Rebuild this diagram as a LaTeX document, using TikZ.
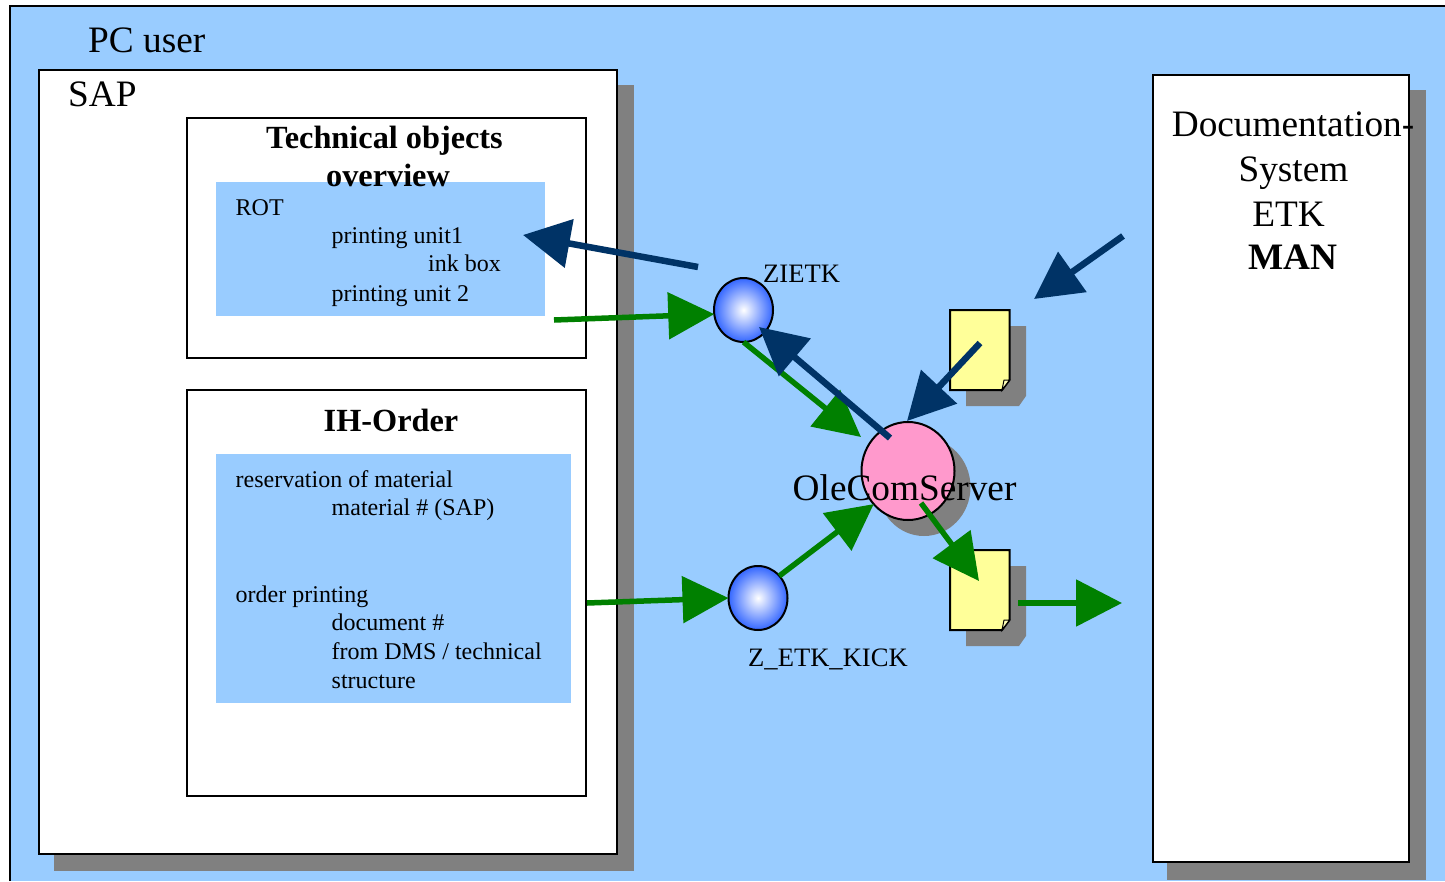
\documentclass[tikz,border=0pt]{standalone}
\usepackage{fontspec}
\setmainfont{Liberation Serif}
\usetikzlibrary{arrows.meta,shapes.geometric}
\definecolor{skyblue}{HTML}{99CCFF}
\definecolor{shadowgrey}{HTML}{808080}
\definecolor{arrowgreen}{HTML}{008000}
\definecolor{arrownavy}{HTML}{003366}
\definecolor{rosepink}{HTML}{FF99CC}
\definecolor{paleyellow}{HTML}{FFFF99}
\definecolor{ballblue}{HTML}{3366FF}
\tikzset{
  x=1pt,y=-1pt,
  panel/.style={rectangle,anchor=north west,inner sep=0pt,outer sep=0pt,draw=black,line width=2pt,fill=white},
  shadowbox/.style={rectangle,anchor=north west,inner sep=0pt,outer sep=0pt,fill=shadowgrey},
  inset/.style={rectangle,anchor=north west,inner sep=0pt,outer sep=0pt,fill=skyblue},
  big/.style={anchor=base west,inner sep=0pt,font=\fontsize{37.3}{37.3}\selectfont},
  bigc/.style={anchor=base,inner sep=0pt,font=\fontsize{37.3}{37.3}\selectfont},
  boldc/.style={anchor=base,inner sep=0pt,font=\fontsize{32.3}{32.3}\selectfont\bfseries},
  small/.style={anchor=base west,inner sep=0pt,font=\fontsize{24}{24}\selectfont},
  tag/.style={anchor=base west,inner sep=0pt,font=\fontsize{26.6}{26.6}\selectfont},
  ball/.style={ellipse,inner sep=0pt,outer sep=0pt,minimum width=59pt,minimum height=64pt,draw=black,line width=2pt,inner color=white,outer color=ballblue},
  server/.style={ellipse,inner sep=0pt,outer sep=0pt,minimum width=93pt,minimum height=98pt,draw=black,line width=2pt,fill=rosepink},
  servershadow/.style={ellipse,inner sep=0pt,outer sep=0pt,minimum width=93pt,minimum height=98pt,fill=shadowgrey},
  greenarrow/.style={draw=arrowgreen,line width=5.5pt,-{Triangle[length=46pt,width=46pt,fill=arrowgreen]}},
  navyarrow/.style={draw=arrownavy,line width=6.5pt,-{Triangle[length=47pt,width=48pt,fill=arrownavy]}},
  notepaper/.style={fill=paleyellow,draw=black,line width=2pt,line join=miter},
}
\newcommand{\notesheet}[2]{%
  \fill[shadowgrey] (#1+16,#2+16) -- (#1+76,#2+16) -- (#1+76,#2+86) -- (#1+69,#2+96) -- (#1+16,#2+96) -- cycle;
  \draw[notepaper] (#1,#2) -- (#1+59.5,#2) -- (#1+59.5,#2+70) -- (#1+52,#2+80) -- (#1,#2+80) -- cycle;
  \draw[fill=paleyellow!70!white,draw=black,line width=1pt] (#1+52,#2+80) -- (#1+54,#2+70) -- (#1+59.5,#2+70) -- cycle;
}
\begin{document}
\begin{tikzpicture}
\useasboundingbox (0,0) rectangle (1445,881);
\fill[white] (0,0) rectangle (1445,881);
\fill[skyblue] (10,6) rectangle (1445,881);
\draw[black,line width=2pt] (10,881) -- (10,6) -- (1445,6);

\node[big] (pcuser) at (88,52) {PC user};

% SAP window
\node[shadowbox,minimum width=580pt,minimum height=786pt] (sapshadow) at (54,85) {};
\node[panel,minimum width=578pt,minimum height=784pt] (sap) at (39,70) {};
\node[big] (saplabel) at (68,106) {SAP};

% Technical objects
\node[panel,minimum width=399pt,minimum height=240pt] (tech) at (187,118) {};
\node[inset,minimum width=329pt,minimum height=134pt] (techinset) at (216,182) {};
\node[boldc] (techa) at (384.5,148) {Technical objects};
\node[boldc] (techb) at (388,186) {overview};
\node[small] (rot) at (235.5,215) {ROT};
\node[small] (unita) at (331.5,243) {printing unit1};
\node[small] (ink) at (428,271) {ink box};
\node[small] (unitb) at (331.5,301) {printing unit 2};

% IH-Order
\node[panel,minimum width=399pt,minimum height=405.5pt] (ih) at (187,390) {};
\node[inset,minimum width=355pt,minimum height=249pt] (ihinset) at (216,454) {};
\node[boldc] (ihlabel) at (391,431) {IH-Order};
\node[small] (resv) at (235.5,487) {reservation of material};
\node[small] (matno) at (331.5,515) {material \# (SAP)};
\node[small] (print) at (235.5,602) {order printing};
\node[small] (docno) at (331.5,630) {document \#};
\node[small] (dms) at (331.5,659) {from DMS / technical};
\node[small] (struct) at (331.5,688) {structure};

% Documentation system
\node[shadowbox,minimum width=259pt,minimum height=790pt] (docshadow) at (1167,90) {};
\node[panel,minimum width=256pt,minimum height=787pt] (doc) at (1153,75) {};
\node[bigc] (doca) at (1293,136) {Documentation-};
\node[bigc] (docb) at (1293.5,181) {System};
\node[bigc] (docc) at (1288.5,226) {ETK};
\node[bigc,font=\fontsize{37.3}{37.3}\selectfont\bfseries] (docd) at (1293,269.5) {MAN};

% Notes
\notesheet{950}{310}
\notesheet{950}{550}

% Balls and server
\node[ball] (zietk) at (743.5,310) {};
\node[ball] (kick) at (758,598) {};
\node[servershadow] (oleshadow) at (924,487) {};
\node[server] (ole) at (908,471) {};

\node[tag] (zietklabel) at (763,282) {ZIETK};
\node[tag] (kicklabel) at (748,666) {Z\_ETK\_KICK};

% Connector ends
\coordinate (techout) at (554,320);
\coordinate (ihout) at (587,603);
\coordinate (intoole) at (861,437);
\coordinate (oleout) at (921,503);
\coordinate (intonote) at (979,581);
\coordinate (noteout) at (1018,603);
\coordinate (intodoc) at (1122,603);
\coordinate (zietkout) at (698,267);
\coordinate (intotech) at (523,235);
\coordinate (oleback) at (890,438);
\coordinate (intozietk) at (759,327);
\coordinate (docout) at (1123,236);
\coordinate (towardnote) at (1034,299);
\coordinate (noteback) at (980,343);
\coordinate (oletop) at (907,421);

% Green connectors
\draw[greenarrow] (techout) -- (zietk.188);
\draw[greenarrow] (zietk.south) -- (intoole);
\draw[greenarrow] (ihout) -- (kick.west);
\draw[greenarrow] (kick.46) -- (ole.224);
\draw[greenarrow] (oleout) -- (intonote);
\draw[greenarrow] (noteout) -- (intodoc);

% Navy connectors
\draw[navyarrow] (zietkout) -- (intotech);
\draw[navyarrow] (oleback) -- (intozietk);
\draw[navyarrow] (docout) -- (towardnote);
\draw[navyarrow] (noteback) -- (oletop);

\node[big] (olelabel) at (792.5,500) {OleComServer};
\end{tikzpicture}
\end{document}
